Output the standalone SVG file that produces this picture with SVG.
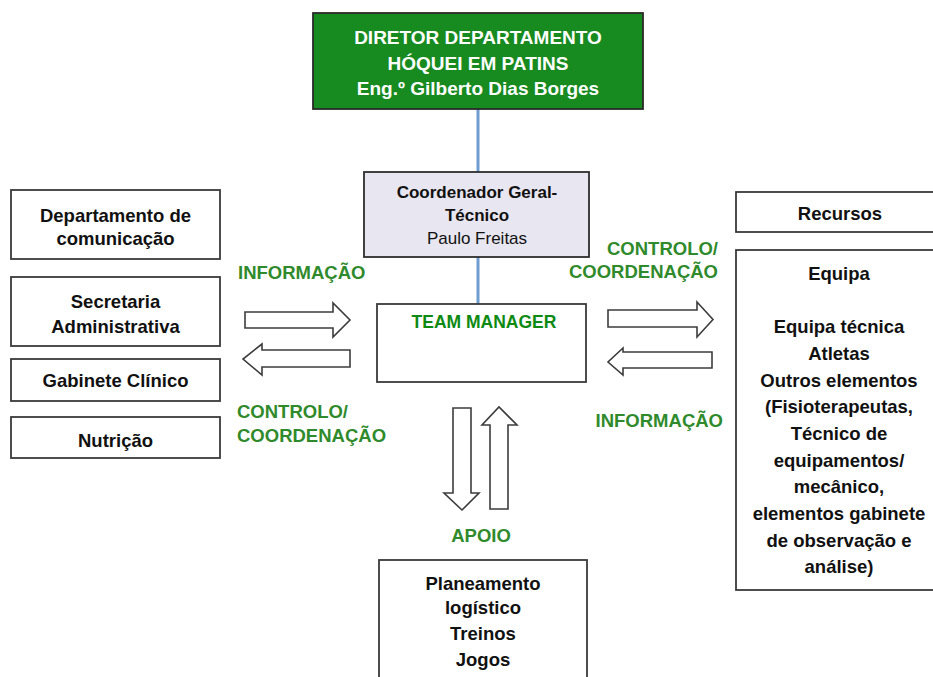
<svg xmlns="http://www.w3.org/2000/svg" width="933" height="677" viewBox="0 0 933 677">
<style>
.box{fill:#fff;stroke:#3a3a3a;stroke-width:1.8}
.t{font-family:"Liberation Sans",Arial,sans-serif;font-weight:bold;font-size:18.5px;fill:#111;text-anchor:middle}
.lbl{font-family:"Liberation Sans",Arial,sans-serif;font-weight:bold;font-size:18.5px;fill:#2f8a2b}
.arr{fill:#fff;stroke:#3c3c3c;stroke-width:1.6;stroke-linejoin:miter}
.link{stroke:#6f9dd0;stroke-width:3;fill:none}
</style>
<rect width="933" height="677" fill="#fff"/>
<g id="connectors">
<line class="link" x1="478" y1="109" x2="478" y2="172"/>
<line class="link" x1="478" y1="257" x2="478" y2="304"/>
<polygon class="arr" points="245,312 333,312 333,303 350,320 333,337 333,328 245,328"/>
<polygon class="arr" points="350,350 262,350 262,344 243,359 262,375 262,367 350,367"/>
<polygon class="arr" points="608,310 697,310 697,302 713,319.5 697,337 697,327 608,327"/>
<polygon class="arr" points="712,352 623,352 623,348 608,362 623,375 623,368 712,368"/>
<polygon class="arr" points="453,408 471,408 471,493 479,493 462,510 444,493 453,493"/>
<polygon class="arr" points="508,509 490,509 490,425 482,425 499,407 517,425 508,425"/>
<text class="lbl" x="238" y="279">INFORMAÇÃO</text>
<text class="lbl" x="237" y="418">CONTROLO/</text>
<text class="lbl" x="237" y="442">COORDENAÇÃO</text>
<text class="lbl" x="718" y="255" text-anchor="end">CONTROLO/</text>
<text class="lbl" x="718" y="278" text-anchor="end">COORDENAÇÃO</text>
<text class="lbl" x="723" y="427" text-anchor="end">INFORMAÇÃO</text>
<text class="lbl" x="481" y="542" text-anchor="middle">APOIO</text>
</g>
<g id="diretor">
<rect x="313" y="13" width="330" height="96" fill="#178a20" stroke="#2a2a2a" stroke-width="1.8"/>
<text class="t" x="478" y="44" style="fill:#fff;font-size:19px">DIRETOR DEPARTAMENTO</text>
<text class="t" x="478" y="70" style="fill:#fff;font-size:19px">HÓQUEI EM PATINS</text>
<text class="t" x="478" y="95" style="fill:#fff;font-size:19px">Eng.º Gilberto Dias Borges</text>
</g>
<g id="coordenador">
<rect x="364" y="172" width="225" height="85" fill="#e8e6f0" stroke="#2e2e2e" stroke-width="1.8"/>
<text class="t" x="477" y="198" style="font-size:17px">Coordenador Geral-</text>
<text class="t" x="477" y="221" style="font-size:17px">Técnico</text>
<text class="t" x="477" y="244" style="font-size:17px;font-weight:normal">Paulo Freitas</text>
</g>
<g id="team-manager">
<rect class="box" x="377" y="304" width="209" height="78"/>
<text class="t" x="484" y="328" style="fill:#0d8a12;font-size:17.5px">TEAM MANAGER</text>
</g>
<g id="dep-comunicacao">
<rect class="box" x="11" y="190" width="209" height="69"/>
<text class="t" x="115.5" y="222">Departamento de</text>
<text class="t" x="115.5" y="245">comunicação</text>
</g>
<g id="secretaria">
<rect class="box" x="11" y="277" width="209" height="69"/>
<text class="t" x="115.5" y="308">Secretaria</text>
<text class="t" x="115.5" y="333">Administrativa</text>
</g>
<g id="gabinete">
<rect class="box" x="11" y="359" width="209" height="42"/>
<text class="t" x="115.5" y="387">Gabinete Clínico</text>
</g>
<g id="nutricao">
<rect class="box" x="11" y="417" width="209" height="41"/>
<text class="t" x="115.5" y="447">Nutrição</text>
</g>
<g id="recursos">
<rect class="box" x="736" y="192" width="210" height="40"/>
<text class="t" x="840" y="220">Recursos</text>
</g>
<g id="equipa">
<rect class="box" x="736" y="250" width="210" height="340"/>
<text class="t" x="839" y="280">Equipa</text>
<text class="t" x="839" y="333">Equipa técnica</text>
<text class="t" x="839" y="360">Atletas</text>
<text class="t" x="839" y="387">Outros elementos</text>
<text class="t" x="839" y="413">(Fisioterapeutas,</text>
<text class="t" x="839" y="440">Técnico de</text>
<text class="t" x="839" y="467">equipamentos/</text>
<text class="t" x="839" y="493">mecânico,</text>
<text class="t" x="839" y="520">elementos gabinete</text>
<text class="t" x="839" y="547">de observação e</text>
<text class="t" x="839" y="573">análise)</text>
</g>
<g id="planeamento">
<rect class="box" x="379" y="560" width="208" height="130"/>
<text class="t" x="483" y="590">Planeamento</text>
<text class="t" x="483" y="614">logístico</text>
<text class="t" x="483" y="640">Treinos</text>
<text class="t" x="483" y="666">Jogos</text>
</g>
</svg>
